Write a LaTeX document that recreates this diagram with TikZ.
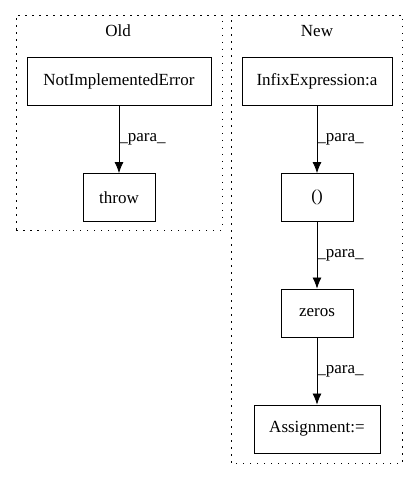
\documentclass[tikz,border=0pt]{standalone}
\usepackage{fontspec}
\setmainfont{Liberation Serif}
\usetikzlibrary{arrows.meta}
\tikzset{
  box/.style={draw, thick, minimum height=48pt, inner sep=0pt, font=\fontsize{17}{19}\selectfont},
  cluster/.style={draw, thick, dash pattern=on 1.5pt off 5.5pt},
  flow/.style={-{Latex[length=11pt,width=9pt]}, thick},
  lbl/.style={font=\fontsize{17}{19}\selectfont}
}
\begin{document}
\begin{tikzpicture}[x=1pt,y=1pt]
            \useasboundingbox (0,0) rectangle (419,480);
            % Old
            \draw[cluster] (16,250) rectangle (222,465);
            \node[lbl] (old) at (118,449) {Old};
            \node[box, minimum width=184pt] (nie) at (119,399) {NotImplementedError};
            \node[box, minimum width=72pt] (throw) at (119,282.5) {throw};
            \draw[flow] (nie) -- node[lbl, right, inner sep=0pt] {\_para\_} (throw);
            % New
            \draw[cluster] (231,17) rectangle (402,465);
            \node[lbl] (new) at (317,449) {New};
            \node[box, minimum width=150pt] (infix) at (317,399) {InfixExpression:a};
            \node[box, minimum width=72pt] (paren) at (317,282.5) {()};
            \node[box, minimum width=72pt] (zeros) at (317,167) {zeros};
            \node[box, minimum width=126pt] (assign) at (317,51) {Assignment:=};
            \draw[flow] (infix) -- node[lbl, right, inner sep=0pt] {\_para\_} (paren);
            \draw[flow] (paren) -- node[lbl, right, inner sep=0pt] {\_para\_} (zeros);
            \draw[flow] (zeros) -- node[lbl, right, inner sep=0pt] {\_para\_} (assign);
        \end{tikzpicture}
\end{document}
